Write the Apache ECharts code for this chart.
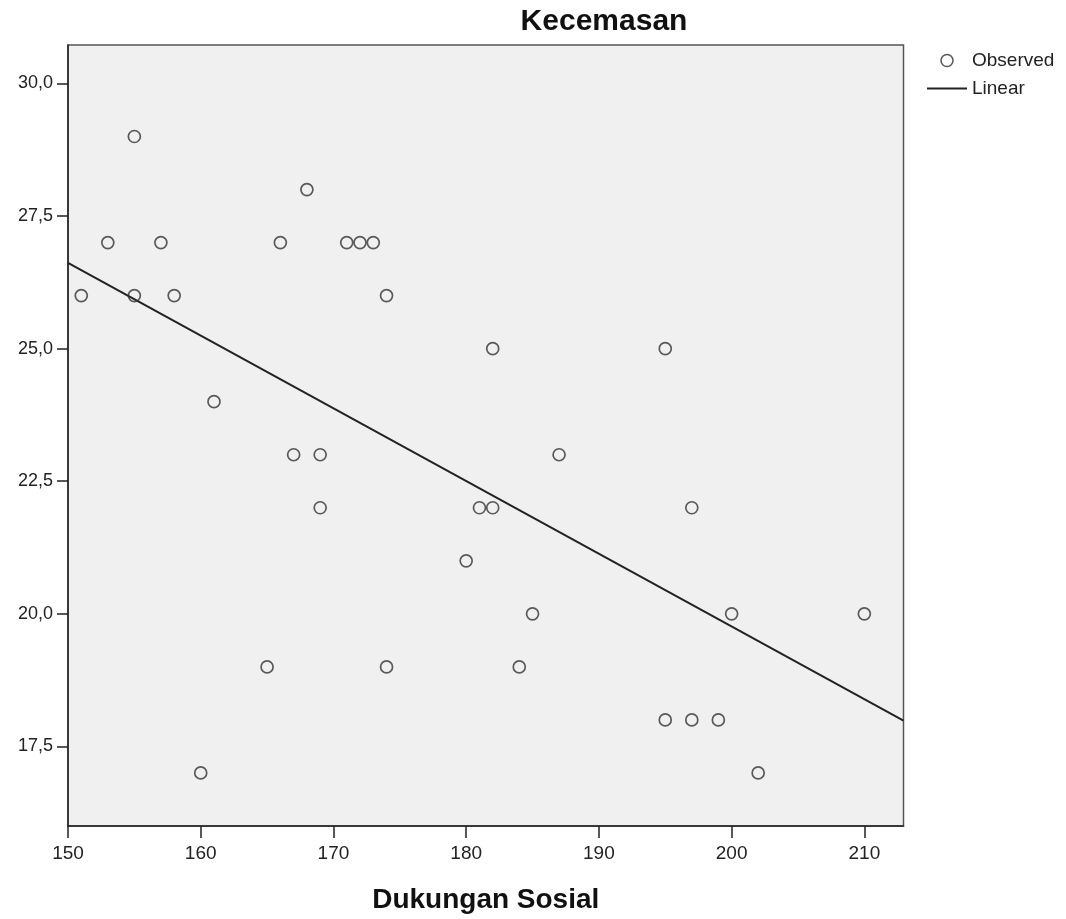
<!DOCTYPE html>
<html>
<head>
<meta charset="utf-8">
<script src="https://cdn.jsdelivr.net/npm/echarts@6/dist/echarts.min.js"></script>
<style>html,body{margin:0;padding:0;background:#fff}#c{width:1066px;height:919px}</style>
</head>
<body>
<div id="c"></div>
<script>
var dukungan = [151,153,155,155,157,158,160,161,165,166,167,168,169,169,171,172,173,174,174,180,181,182,182,184,185,187,195,195,197,197,199,200,202,210];
var kecemasan = [26,27,29,26,27,26,17,24,19,27,23,28,23,22,27,27,27,26,19,21,22,22,25,19,20,23,25,18,22,18,18,20,17,20];
var linearX = [150, 212.95];
var linearY = [26.615, 17.986];
var xTicks = [150,160,170,180,190,200,210];
var yTicks = [17.5,20,22.5,25,27.5,30];

var observed = dukungan.map(function(v,i){return [v, kecemasan[i]];});
var linear = linearX.map(function(v,i){return [v, linearY[i]];});

var chart = echarts.init(document.getElementById('c'));
var FF = '"Liberation Sans", Arial, sans-serif';
chart.setOption({
  animation: false,
  backgroundColor: '#ffffff',
  textStyle: {fontFamily: FF},
  grid: {left: 68, right: 162.5, top: 45, bottom: 92, show: true, backgroundColor: '#f0f0f0', borderColor: '#555', borderWidth: 1.5},
  graphic: [
    {type: 'text', x: 604, y: 22, style: {text: 'Kecemasan', font: 'bold 30px ' + FF, fill: '#111', align: 'center', verticalAlign: 'middle'}}
  ],
  legend: {
    orient: 'vertical', left: 926, top: 51, itemWidth: 40, itemHeight: 12, itemGap: 9, padding: 0,
    textStyle: {fontSize: 19, color: '#222', fontFamily: FF},
    data: [
      {name: 'Observed', icon: 'circle', itemStyle: {color: 'rgba(0,0,0,0)', borderColor: '#333', borderWidth: 1.6}},
      {name: 'Linear', itemStyle: {opacity: 0, color: 'rgba(0,0,0,0)', borderWidth: 0}, lineStyle: {color: '#222', width: 2}}
    ]
  },
  xAxis: {
    type: 'value', min: 150, max: 212.95,
    name: 'Dukungan Sosial', nameLocation: 'middle', nameGap: 60,
    nameTextStyle: {fontSize: 28, fontWeight: 'bold', color: '#111', fontFamily: FF},
    axisLine: {show: true, onZero: false, lineStyle: {color: '#222', width: 1.5}},
    axisTick: {show: true, length: 12, lineStyle: {color: '#222', width: 1.5}, customValues: xTicks},
    axisLabel: {fontSize: 19, color: '#222', margin: 18, customValues: xTicks, formatter: function(v){return String(v);}},
    splitLine: {show: false}
  },
  yAxis: {
    type: 'value', min: 16.0, max: 30.725,
    axisLine: {show: true, onZero: false, lineStyle: {color: '#222', width: 1.5}},
    axisTick: {show: true, length: 11, lineStyle: {color: '#222', width: 1.5}, customValues: yTicks},
    axisLabel: {fontSize: 18, color: '#222', margin: 15, customValues: yTicks, formatter: function(v){return v.toFixed(1).replace('.', ',');}},
    splitLine: {show: false}
  },
  series: [
    {name: 'Observed', type: 'scatter', data: observed, symbol: 'circle', symbolSize: 12,
     itemStyle: {color: 'rgba(0,0,0,0)', borderColor: '#333', borderWidth: 1.7}, z: 3},
    {name: 'Linear', type: 'line', data: linear, symbol: 'none', showSymbol: false,
     lineStyle: {color: '#222', width: 2}, itemStyle: {color: '#222'}, z: 2}
  ]
});
</script>
</body>
</html>
